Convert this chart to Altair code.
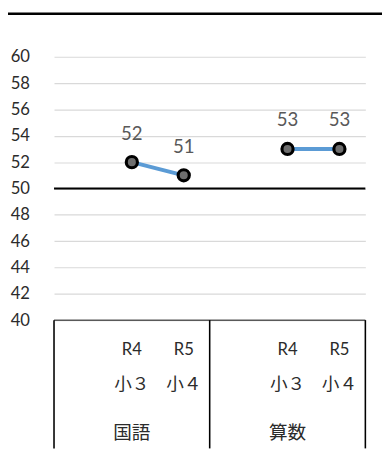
import altair as alt
import pandas as pd

# ---- data ----
subjects = ["国語", "国語", "算数", "算数"]
years = ["R4", "R5", "R4", "R5"]
grades = ["小３", "小４", "小３", "小４"]
scores = [52, 51, 53, 53]
group_names = ["国語", "算数"]
y_ticks = [40, 42, 44, 46, 48, 50, 52, 54, 56, 58, 60]
y_domain = [40, 60]
baseline_value = 50

slot_order = []
for g in group_names:
    slot_order += [g + "|", g + "|R4", g + "|R5"]

df = pd.DataFrame({"subject": subjects, "year": years, "grade": grades, "score": scores})
df["slot"] = df["subject"] + "|" + df["year"]

groups_df = pd.DataFrame({"name": group_names, "slot": [g + "|R4" for g in group_names]})
sep_start_df = pd.DataFrame({"slot": [g + "|" for g in group_names]})
sep_end_df = pd.DataFrame({"slot": [slot_order[-1]]})

NUM_FONT = "Lato"
JP_FONT = "Noto Sans CJK JP"
TXT = "#2b2b2b"

xscale = alt.Scale(type="band", domain=slot_order, paddingInner=0, paddingOuter=0)
yscale = alt.Scale(domain=y_domain, nice=False, zero=False)
yaxis = alt.Axis(
    values=y_ticks, grid=True, gridColor="#d9d9d9", gridWidth=1.2,
    domain=False, ticks=False, labelPadding=25, labelFontSize=17,
    labelOverlap=False, labelFlush=False,
    labelFont=NUM_FONT, labelColor=TXT, title=None)

X = alt.X("slot:N", scale=xscale, axis=None, sort=slot_order)
Y = alt.Y("score:Q", scale=yscale, axis=yaxis)

line = alt.Chart(df).mark_line(color="#5b9bd5", strokeWidth=4).encode(
    x=X, y=Y, detail="subject:N")

pts = alt.Chart(df).mark_point(
    shape="circle", filled=False, fill="#6e6e6e", fillOpacity=1,
    stroke="black", strokeWidth=3.2, size=130, opacity=1).encode(x=X, y=Y)

vals = alt.Chart(df).mark_text(dy=-29, fontSize=19, font=NUM_FONT, color="#595959").encode(
    x=X, y=Y, text="score:Q")

base50 = alt.Chart(pd.DataFrame({"score": [baseline_value]})).mark_rule(
    color="black", strokeWidth=2).encode(y=Y)
base40 = alt.Chart(pd.DataFrame({"score": [y_domain[0]]})).mark_rule(
    color="#595959", strokeWidth=1.5).encode(y=Y)

sep_start = alt.Chart(sep_start_df).mark_rule(color="black", strokeWidth=1.6).encode(
    x=alt.X("slot:N", scale=xscale, axis=None, bandPosition=0),
    y=alt.datum(y_domain[0], scale=yscale, axis=yaxis), y2=alt.value(400))
sep_end = alt.Chart(sep_end_df).mark_rule(color="black", strokeWidth=1.6).encode(
    x=alt.X("slot:N", scale=xscale, axis=None, bandPosition=1),
    y=alt.datum(y_domain[0], scale=yscale, axis=yaxis), y2=alt.value(400))

year_lbl = alt.Chart(df).mark_text(fontSize=17, font=NUM_FONT, color=TXT).encode(
    x=X, y=alt.value(300), text="year:N")
grade_lbl = alt.Chart(df).mark_text(fontSize=18, font=JP_FONT, color=TXT).encode(
    x=X, y=alt.value(335), text="grade:N")
group_lbl = alt.Chart(groups_df).mark_text(fontSize=19, font=JP_FONT, color=TXT).encode(
    x=X, y=alt.value(384), text="name:N")

top_rule = alt.Chart(pd.DataFrame({"a": [0]})).mark_rule(color="black", strokeWidth=2.5).encode(
    x=alt.value(-60), x2=alt.value(340), y=alt.value(-44))

chart = alt.layer(
    line, base40, base50, pts, vals, sep_start, sep_end,
    year_lbl, grade_lbl, group_lbl, top_rule
).properties(
    width=318, height=269,
    autosize=alt.AutoSizeParams(type="none"),
    padding={"left": 47, "top": 45, "right": 17, "bottom": 137},
).configure_view(stroke=None)

chart.save("out.html", embed_options={"renderer": "svg", "actions": False})
